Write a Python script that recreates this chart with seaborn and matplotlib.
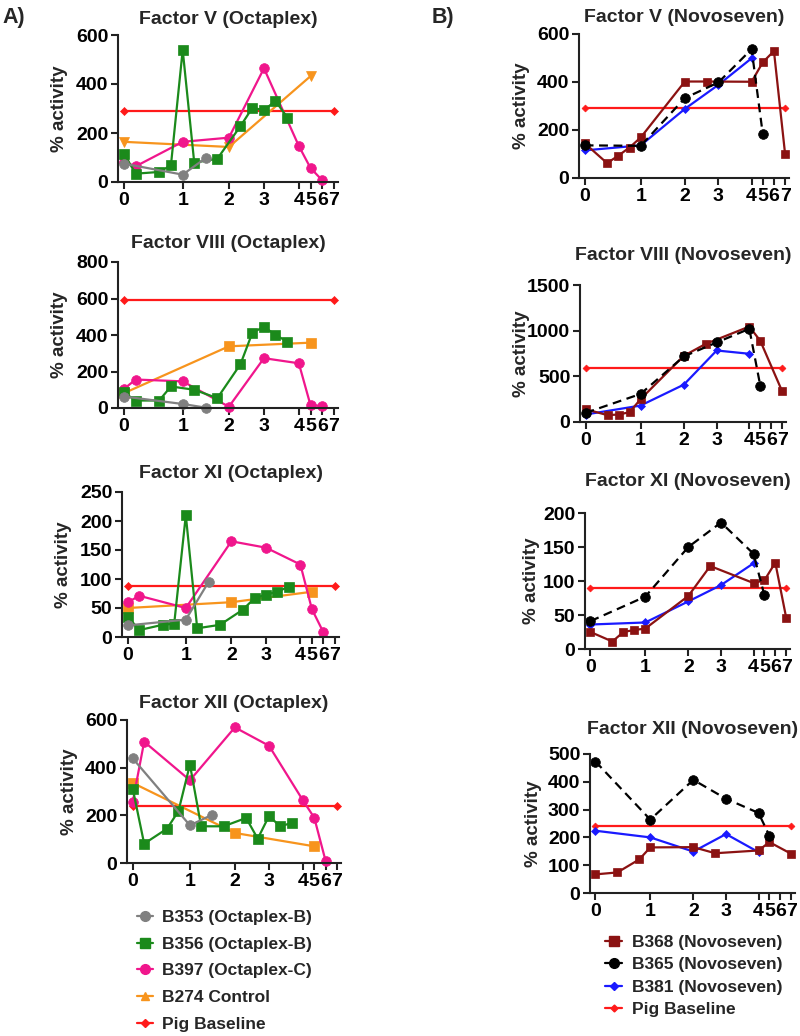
import numpy as np
import matplotlib
matplotlib.use('Agg')
import matplotlib.pyplot as plt
from matplotlib.lines import Line2D
import seaborn as sns

# eje x segmentado (tramos 0-1, 1-2, 2-3, 3-4 anchos y 4-7 comprimido)
X_BREAKS = [-1, 0, 1, 2, 3, 4, 7, 10]
X_POS = [-0.28, 0, 0.28, 0.5, 0.667, 0.833, 1.0, 1.167]

def fwd(x):
    return np.interp(x, X_BREAKS, X_POS)

def inv(p):
    return np.interp(p, X_POS, X_BREAKS)

# ---- datos Octaplex ----
x_b353 = [0, 1, 1.5]
x_b356 = [0, 0.2, 0.6, 0.8, 1, 1.25, 1.75, 2.33, 2.67, 3, 3.33, 3.67]
x_b356_f8 = [0, 0.2, 0.6, 0.8, 1.25, 1.75, 2.33, 2.67, 3, 3.33, 3.67]
x_b397 = [0, 0.2, 1, 2, 3, 4, 5, 6]
x_b274 = [0, 2, 5]
x_base = [0, 7]

f5_b353 = [75, 30, 98]
f5_b356 = [116, 34, 41, 68, 539, 79, 95, 228, 303, 293, 331, 263]
f5_b397 = [82, 64, 164, 181, 464, 147, 57, 7]
f5_b274 = [164, 143, 432]

f8_b353 = [63, 22, 2]
f8_b356 = [85, 41, 41, 118, 100, 54, 240, 413, 445, 400, 364]
f8_b397 = [104, 156, 146, 7, 273, 245, 15, 12]
f8_b274 = [81, 338, 358]

f11_b353 = [20, 30, 95]
f11_b356 = [35, 12, 21, 23, 210, 15, 21, 47, 67, 73, 78, 87]
f11_b397 = [60, 71, 50, 165, 154, 125, 48, 8]
f11_b274 = [50, 60, 78]

f12_b353 = [439, 158, 203]
f12_b356 = [312, 81, 144, 218, 413, 154, 154, 189, 102, 197, 154, 168]
f12_b397 = [256, 509, 347, 569, 492, 263, 190, 8]
f12_b274 = [336, 126, 70]

base_oct = [290, 590, 88, 240]

# ---- datos Novoseven ----
x_b368 = [0, 0.4, 0.6, 0.8, 1, 2, 2.67, 4, 5, 6, 7]
x_b368_f8 = [0, 0.4, 0.6, 0.8, 1, 2, 2.67, 4, 5, 7]
x_b368_f12 = [0, 0.4, 0.8, 1, 2, 2.67, 4, 5, 7]
x_b365 = [0, 1, 2, 3, 4, 5]
x_b381 = [0, 1, 2, 3, 4]

f5_b368 = [145, 62, 93, 127, 169, 402, 402, 401, 482, 529, 100]
f5_b365 = [136, 134, 333, 398, 537, 183]
f5_b381 = [115, 136, 288, 388, 499]

f8_b368 = [140, 75, 82, 107, 250, 725, 856, 1045, 889, 336]
f8_b365 = [100, 307, 718, 871, 1020, 398]
f8_b381 = [82, 180, 409, 783, 747]

f11_b368 = [25, 11, 25, 28, 30, 78, 122, 97, 101, 127, 46]
f11_b365 = [41, 77, 150, 186, 140, 79]
f11_b381 = [36, 39, 70, 94, 126]

f12_b368 = [67, 74, 121, 164, 165, 143, 153, 183, 141]
f12_b365 = [473, 264, 407, 339, 288, 206]
f12_b381 = [224, 200, 149, 212, 147]

base_novo = [292, 590, 89, 242]

titulos_oct = ['Factor V (Octaplex)', 'Factor VIII (Octaplex)',
               'Factor XI (Octaplex)', 'Factor XII (Octaplex)']
titulos_novo = ['Factor V (Novoseven)', 'Factor VIII (Novoseven)',
                'Factor XI (Novoseven)', 'Factor XII (Novoseven)']
yticks_oct = [[0, 200, 400, 600], [0, 200, 400, 600, 800],
              [0, 50, 100, 150, 200, 250], [0, 200, 400, 600]]
yticks_novo = [[0, 200, 400, 600], [0, 500, 1000, 1500],
               [0, 50, 100, 150, 200], [0, 100, 200, 300, 400, 500]]

GRIS = '#808080'
VERDE = '#1b8a1b'
ROSA = '#f0168c'
NARANJA = '#f7941d'
ROJO = '#ff1a1a'
GRANATE = '#8b1212'
NEGRO = '#000000'
AZUL = '#1a1aff'

sns.set_style('ticks')
plt.rcParams['font.family'] = ['Liberation Sans', 'DejaVu Sans']
plt.rcParams['font.weight'] = 'bold'

W, H = 800, 1036
fig = plt.figure(figsize=(W / 100, H / 100), dpi=100)

# cajas en pixeles: izquierda, derecha, arriba, abajo
cajas_oct = [(118, 338, 35, 182), (118, 338, 262, 408),
             (122, 339, 492, 637), (127, 341, 720, 863)]
cajas_novo = [(579, 789, 34, 178), (580, 786, 285, 422),
              (585, 790, 513, 649), (590, 795, 754, 893)]
titulo_y_oct = [19, 243, 474, 704]
titulo_y_novo = [18, 255, 481, 729]
ylabel_x_oct = [59, 59, 63, 70]
ylabel_x_novo = [521, 521, 532, 533]


def crear_ejes(caja, yticks, titulo, ty, lx):
    l, r, t, b = caja
    ax = fig.add_axes([l / W, 1 - b / H, (r - l) / W, (b - t) / H])
    ax.set_xscale('function', functions=(fwd, inv))
    ax.set_xlim(-0.1, 7.35)
    ax.set_ylim(0, yticks[-1])
    ax.set_xticks(range(8))
    ax.set_yticks(yticks)
    ax.tick_params(direction='out', length=5, width=1.5, labelsize=14,
                   colors='#222222', labelcolor='black', pad=2)
    for s in ['top', 'right']:
        ax.spines[s].set_visible(False)
    for s in ['left', 'bottom']:
        ax.spines[s].set_linewidth(1.5)
        ax.spines[s].set_color('#222222')
    for lab in ax.get_xticklabels() + ax.get_yticklabels():
        lab.set_fontweight('bold')
    ax.set_facecolor('none')
    fig.text((l + r) / 2 / W, 1 - ty / H, titulo, ha='center', va='center',
             fontsize=14, fontweight='bold')
    fig.text(lx / W, 1 - (t + b) / 2 / H, '% activity', rotation=90,
             ha='center', va='center', fontsize=13.5, fontweight='bold')
    return ax


def trazar(ax, x, y, color, marker, ms, ls='-'):
    sns.lineplot(x=x, y=y, ax=ax, color=color, marker=marker, markersize=ms,
                 markeredgecolor=color, markeredgewidth=0.5, linewidth=1.6,
                 linestyle=ls, clip_on=False, estimator=None, sort=False)


datos_oct = [
    (f5_b353, f5_b356, x_b356, f5_b397, f5_b274, 'v'),
    (f8_b353, f8_b356, x_b356_f8, f8_b397, f8_b274, 's'),
    (f11_b353, f11_b356, x_b356, f11_b397, f11_b274, 's'),
    (f12_b353, f12_b356, x_b356, f12_b397, f12_b274, 's'),
]
for i, (g, v, xv, p, o, mo) in enumerate(datos_oct):
    ax = crear_ejes(cajas_oct[i], yticks_oct[i], titulos_oct[i],
                    titulo_y_oct[i], ylabel_x_oct[i])
    trazar(ax, x_base, [base_oct[i]] * 2, ROJO, 'D', 4.5)
    trazar(ax, x_b274, o, NARANJA, mo, 6.5)
    trazar(ax, x_b397, p, ROSA, 'o', 7)
    trazar(ax, xv, v, VERDE, 's', 6.5)
    trazar(ax, x_b353, g, GRIS, 'o', 7)

datos_novo = [
    (x_b368, f5_b368, f5_b365, f5_b381),
    (x_b368_f8, f8_b368, f8_b365, f8_b381),
    (x_b368, f11_b368, f11_b365, f11_b381),
    (x_b368_f12, f12_b368, f12_b365, f12_b381),
]
for i, (xr, r, k, b) in enumerate(datos_novo):
    ax = crear_ejes(cajas_novo[i], yticks_novo[i], titulos_novo[i],
                    titulo_y_novo[i], ylabel_x_novo[i])
    trazar(ax, x_base, [base_novo[i]] * 2, ROJO, 'D', 3.5)
    trazar(ax, x_b381, b, AZUL, 'D', 4.5)
    trazar(ax, xr, r, GRANATE, 's', 6)
    trazar(ax, x_b365, k, NEGRO, 'o', 7, ls=(0, (4, 2.5)))

fig.text(2 / W, 1 - 18 / H, 'A)', fontsize=15.5, fontweight='bold', va='center')
fig.text(432 / W, 1 - 18 / H, 'B)', fontsize=15.5, fontweight='bold', va='center')

# leyendas
def h(color, marker, ms):
    return Line2D([], [], color=color, marker=marker, markersize=ms, linewidth=1.6)

hand_oct = [h(GRIS, 'o', 7), h(VERDE, 's', 6.5), h(ROSA, 'o', 7),
            h(NARANJA, '^', 6), h(ROJO, 'D', 4)]
lab_oct = ['B353 (Octaplex-B)', 'B356 (Octaplex-B)', 'B397 (Octaplex-C)',
           'B274 Control', 'Pig Baseline']
fig.legend(hand_oct, lab_oct, loc='upper left',
           bbox_to_anchor=(137 / W, 1 - 910 / H), frameon=False,
           prop={'size': 12.5, 'weight': 'bold'}, handlelength=0.9,
           handletextpad=0.55, labelspacing=0.66, borderpad=0, borderaxespad=0)

hand_novo = [h(GRANATE, 's', 6.5), h(NEGRO, 'o', 7), h(AZUL, 'D', 4.5),
             h(ROJO, 'D', 3.5)]
lab_novo = ['B368 (Novoseven)', 'B365 (Novoseven)', 'B381 (Novoseven)',
            'Pig Baseline']
fig.legend(hand_novo, lab_novo, loc='upper left',
           bbox_to_anchor=(605 / W, 1 - 935 / H), frameon=False,
           prop={'size': 12.5, 'weight': 'bold'}, handlelength=1.0,
           handletextpad=0.55, labelspacing=0.41, borderpad=0, borderaxespad=0)

fig.savefig('out.png', dpi=100)
